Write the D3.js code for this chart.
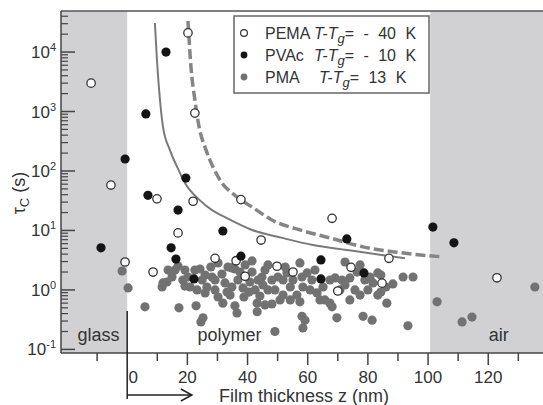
<!DOCTYPE html>
<html>
<head>
<meta charset="utf-8">
<script src="https://cdn.jsdelivr.net/npm/d3@7"></script>
<style>
  body { margin: 0; background: #fff; }
  text { font-family: "Liberation Sans", Arial, sans-serif; fill: #333; }
</style>
</head>
<body>
<div id="wrapper"></div>
<script>
// data: [film thickness z (nm), tau_c (s)]
const pema = [
  [-12.0, 3000], [-5.4, 58], [-0.7, 2.95], [20.2, 21000], [22.5, 940], [9.9, 34],
  [21.9, 31], [37.8, 33], [16.9, 9.1], [44.5, 6.9], [29.2, 3.4], [36.2, 3.1],
  [8.6, 2.0], [39.2, 1.7], [49.8, 2.5], [68.1, 16], [55.1, 2.0], [74.4, 2.4],
  [70.0, 0.96], [84.7, 1.3], [87.0, 3.4], [122.9, 1.6],
]
const pvac = [
  [-8.7, 5.1], [-0.7, 159], [12.9, 10000], [6.2, 910], [19.5, 76], [6.9, 39],
  [16.9, 22], [31.8, 9.8], [14.6, 5.1], [16.2, 3.3], [37.8, 3.7], [22.2, 1.53],
  [73.0, 7.2], [64.4, 3.2], [64.4, 1.53], [78.7, 1.93], [101.6, 11.4], [108.6, 6.2],
]
const pma = [
  [-1.7, 2.08], [0.3, 1.08], [5.9, 0.52], [11.6, 1.12], [13.2, 1.36], [14.9, 1.65],
  [15.9, 2.16], [16.9, 2.52], [13.6, 2.16], [18.5, 1.47], [20.2, 1.65], [19.2, 1.16],
  [17.2, 0.50], [22.9, 0.54], [24.2, 2.25], [24.9, 1.47], [26.5, 1.12], [27.8, 2.43],
  [28.2, 1.65], [25.9, 0.89], [29.2, 1.0], [30.2, 0.76], [31.8, 0.60], [31.5, 1.85],
  [32.5, 1.31], [34.8, 1.12], [35.8, 2.25], [36.8, 1.47], [37.5, 2.0], [39.2, 2.63],
  [41.5, 3.07], [40.8, 1.36], [42.5, 1.0], [40.5, 0.92], [35.8, 0.54], [36.5, 0.41],
  [43.2, 0.60], [43.2, 0.43], [44.8, 1.65], [45.8, 2.16], [45.1, 1.21], [46.8, 1.0],
  [48.1, 0.58], [45.8, 0.56], [48.1, 1.47], [50.1, 1.65], [49.1, 1.0], [25.2, 0.34],
  [24.5, 0.29], [49.1, 0.20], [34.8, 2.34], [38.5, 1.08], [20.9, 1.12], [11.9, 1.31],
  [29.2, 1.47], [33.5, 2.43], [30.2, 2.84], [52.5, 2.43], [51.8, 1.47], [51.8, 0.82],
  [54.2, 1.12], [56.4, 0.82], [57.4, 2.84], [58.1, 1.65], [59.8, 1.93], [58.4, 1.12],
  [61.4, 1.47], [63.1, 0.89], [65.1, 1.12], [67.4, 1.47], [69.1, 1.59], [71.4, 1.47],
  [72.4, 2.95], [74.0, 1.59], [75.7, 1.0], [74.0, 0.68], [77.4, 2.63], [79.0, 1.47],
  [80.7, 1.65], [83.3, 1.93], [81.7, 1.31], [83.3, 0.82], [86.3, 0.60], [88.3, 1.26],
  [91.7, 1.65], [95.0, 1.65], [67.4, 0.60], [68.1, 0.52], [69.7, 0.34], [58.1, 0.36],
  [59.1, 0.31], [58.4, 0.23], [78.4, 0.36], [81.4, 0.31], [93.3, 0.25], [55.1, 1.47],
  [84.3, 1.78], [84.3, 0.92], [103.0, 0.63], [111.3, 0.29], [114.6, 0.35], [135.5, 1.12],
  [22.5, 2.16], [25.9, 1.78], [34.2, 0.82], [44.1, 0.79], [50.8, 0.68], [54.2, 0.68],
  [62.4, 2.16], [65.7, 0.68], [70.7, 1.0], [77.4, 0.82], [80.0, 1.0], [38.8, 0.76],
  [33.2, 0.92], [23.2, 1.0], [19.2, 2.16], [43.5, 1.47], [46.8, 2.63], [60.8, 1.0],
  [64.1, 0.68], [72.4, 1.21], [76.4, 2.0], [86.0, 1.12], [57.4, 0.63], [53.1, 1.93],
  [41.5, 2.0],
]
// fitted curves
const solidCurve = [
  [9.2, 30800], [9.9, 7350], [10.9, 1560], [11.9, 550], [14.2, 225], [16.6, 117],
  [19.2, 63], [23.9, 33], [28.2, 22], [32.5, 16.8], [41.5, 10.2], [51.5, 7.5],
  [61.7, 5.7], [73.0, 4.7], [84.0, 3.9], [92.3, 3.4],
]
const dashedCurve = [
  [20.2, 33300], [21.2, 5600], [22.5, 1560], [23.9, 550], [26.2, 225], [28.5, 117],
  [31.5, 63], [35.8, 39], [41.5, 24.8], [48.1, 15.0], [57.4, 10.2], [67.4, 7.5],
  [78.4, 5.3], [89.7, 4.3], [104.6, 3.6],
]
const regions = [
  { name: "glass", from: -22, to: 0, shade: true, labelX: -9.5 },
  { name: "polymer", from: 0, to: 100.7, shade: false, labelX: 34 },
  { name: "air", from: 100.7, to: 139, shade: true, labelX: 123.5 },
]
const yMajorTicks = [0.1, 1, 10, 100, 1000, 10000]
const yTickExponents = ["-1", "0", "1", "2", "3", "4"]
const xMajorTicks = [0, 20, 40, 60, 80, 100, 120]
const xMinorTicks = [-10, 10, 30, 50, 70, 90, 110, 130]
const legendItems = [
  { name: "PEMA", formula: "= - 40 K" },
  { name: "PVAc", formula: "= - 10 K" },
  { name: "PMA", formula: "= 13 K" },
]

const width = 543
const height = 405

const svg = d3.select("#wrapper")
  .append("svg")
    .attr("width", width)
    .attr("height", height)

const xScale = d3.scaleLinear()
  .domain([-22, 139])
  .range([61, 545.4])

const yScale = d3.scaleLog()
  .domain([0.087, 49000])
  .range([353, 11])

const plotTop = yScale.range()[1]
const plotBottom = yScale.range()[0]
const plotLeft = xScale.range()[0]

// shaded regions
svg.selectAll(".region")
  .data(regions.filter(d => d.shade))
  .enter().append("rect")
    .attr("x", d => xScale(d.from))
    .attr("y", plotTop)
    .attr("width", d => xScale(d.to) - xScale(d.from))
    .attr("height", plotBottom - plotTop)
    .attr("fill", "#d1d1d3")

svg.selectAll(".region-label")
  .data(regions)
  .enter().append("text")
    .attr("x", d => xScale(d.labelX))
    .attr("y", 341)
    .attr("text-anchor", "middle")
    .style("font-size", "18px")
    .text(d => d.name)

// curves
const line = d3.line()
  .x(d => xScale(d[0]))
  .y(d => yScale(d[1]))
  .curve(d3.curveMonotoneX)

svg.append("path")
  .attr("d", line(solidCurve))
  .attr("fill", "none")
  .attr("stroke", "#7a7a7a")
  .attr("stroke-width", 2)

svg.append("path")
  .attr("d", line(dashedCurve))
  .attr("fill", "none")
  .attr("stroke", "#858585")
  .attr("stroke-width", 3.5)
  .attr("stroke-dasharray", "10,4")

// points
const drawDots = (data, fill, stroke, r) => {
  svg.append("g").selectAll("circle")
    .data(data)
    .enter().append("circle")
      .attr("cx", d => xScale(d[0]))
      .attr("cy", d => yScale(d[1]))
      .attr("r", r)
      .attr("fill", fill)
      .attr("stroke", stroke)
      .attr("stroke-width", 1.3)
}
drawDots(pma, "#727272", "none", 4.6)
drawDots(pema, "#fff", "#333", 4.2)
drawDots(pvac, "#141414", "none", 4.6)

// frame
const axisColor = "#444"
svg.append("line")
  .attr("x1", plotLeft).attr("x2", width)
  .attr("y1", plotTop).attr("y2", plotTop)
  .attr("stroke", "#555").attr("stroke-width", 1.5)
svg.append("line")
  .attr("x1", plotLeft).attr("x2", plotLeft)
  .attr("y1", plotTop).attr("y2", plotBottom)
  .attr("stroke", axisColor).attr("stroke-width", 1.5)
svg.append("line")
  .attr("x1", plotLeft).attr("x2", width)
  .attr("y1", plotBottom).attr("y2", plotBottom)
  .attr("stroke", axisColor).attr("stroke-width", 1.5)

// y ticks (pointing inward)
const yMinorTicks = []
yMajorTicks.forEach(base => {
  for (let m = 2; m <= 9; m++) {
    if (base * m < yScale.domain()[1]) yMinorTicks.push(base * m)
  }
})
svg.selectAll(".y-minor")
  .data(yMinorTicks)
  .enter().append("line")
    .attr("x1", plotLeft).attr("x2", plotLeft + 7)
    .attr("y1", d => yScale(d)).attr("y2", d => yScale(d))
    .attr("stroke", axisColor).attr("stroke-width", 1.2)
svg.selectAll(".y-major")
  .data(yMajorTicks)
  .enter().append("line")
    .attr("x1", plotLeft).attr("x2", plotLeft + 14)
    .attr("y1", d => yScale(d)).attr("y2", d => yScale(d))
    .attr("stroke", axisColor).attr("stroke-width", 1.5)

const yLabels = svg.selectAll(".y-label")
  .data(yMajorTicks)
  .enter().append("text")
    .attr("x", 56)
    .attr("y", d => yScale(d) + 6)
    .attr("text-anchor", "end")
    .style("font-size", "17px")
yLabels.append("tspan").text("10")
yLabels.append("tspan")
  .attr("dy", -7)
  .style("font-size", "11px")
  .text((d, i) => yTickExponents[i])

// x ticks (pointing outward)
svg.selectAll(".x-major")
  .data(xMajorTicks.filter(d => d !== 0))
  .enter().append("line")
    .attr("x1", d => xScale(d)).attr("x2", d => xScale(d))
    .attr("y1", plotBottom).attr("y2", plotBottom + 12)
    .attr("stroke", axisColor).attr("stroke-width", 1.5)
svg.selectAll(".x-minor")
  .data(xMinorTicks)
  .enter().append("line")
    .attr("x1", d => xScale(d)).attr("x2", d => xScale(d))
    .attr("y1", plotBottom).attr("y2", plotBottom + 8)
    .attr("stroke", axisColor).attr("stroke-width", 1.5)
svg.selectAll(".x-label")
  .data(xMajorTicks)
  .enter().append("text")
    .attr("x", d => xScale(d) + (d === 0 ? 6 : 0))
    .attr("y", 383)
    .attr("text-anchor", "middle")
    .style("font-size", "17px")
    .text(d => d)

// thickness arrow from z = 0
const arrowY = 395
svg.append("line")
  .attr("x1", xScale(0)).attr("x2", xScale(0))
  .attr("y1", 311).attr("y2", 399)
  .attr("stroke", "#222").attr("stroke-width", 1.5)
svg.append("line")
  .attr("x1", xScale(0)).attr("x2", xScale(21.5))
  .attr("y1", arrowY).attr("y2", arrowY)
  .attr("stroke", "#222").attr("stroke-width", 1.5)
svg.append("path")
  .attr("d", `M${xScale(21.5) - 11},${arrowY - 6} L${xScale(21.5)},${arrowY} L${xScale(21.5) - 11},${arrowY + 6}`)
  .attr("fill", "none")
  .attr("stroke", "#222").attr("stroke-width", 1.5)

// axis titles
svg.append("text")
  .attr("x", 304)
  .attr("y", 402)
  .attr("text-anchor", "middle")
  .style("font-size", "18px")
  .text("Film thickness z (nm)")

const yTitle = svg.append("text")
  .attr("transform", "translate(25, 193) rotate(-90)")
  .attr("text-anchor", "middle")
  .style("font-size", "18px")
yTitle.append("tspan").text("τ")
yTitle.append("tspan").attr("dy", 4).style("font-size", "13px").text("C")
yTitle.append("tspan").attr("dy", -4).text(" (s)")

// legend
const legend = svg.append("g")
legend.append("rect")
  .attr("x", 234).attr("y", 16)
  .attr("width", 195).attr("height", 77)
  .attr("fill", "#fff")
  .attr("stroke", "#666").attr("stroke-width", 1.5)

const legendStyles = [
  { fill: "#fff", stroke: "#333" },
  { fill: "#141414", stroke: "none" },
  { fill: "#727272", stroke: "none" },
]
const rows = legend.selectAll(".legend-row")
  .data(legendItems)
  .enter().append("g")
    .attr("transform", (d, i) => `translate(0, ${33 + i * 22})`)
rows.append("circle")
  .attr("cx", 244).attr("cy", 0).attr("r", 3.4)
  .attr("fill", (d, i) => legendStyles[i].fill)
  .attr("stroke", (d, i) => legendStyles[i].stroke)
  .attr("stroke-width", 1.2)
rows.append("text")
  .attr("x", 265).attr("y", 6)
  .style("font-size", "16px")
  .text(d => d.name)
const formula = rows.append("text")
  .attr("x", (d, i) => i === 2 ? 319 : 314)
  .attr("y", 6)
  .style("font-size", "16px")
  .style("word-spacing", "5px")
formula.append("tspan").style("font-style", "italic").text("T-T")
formula.append("tspan").attr("dy", 4).style("font-style", "italic").style("font-size", "13px").text("g")
formula.append("tspan").attr("dy", -4).text(d => d.formula)
</script>
</body>
</html>
